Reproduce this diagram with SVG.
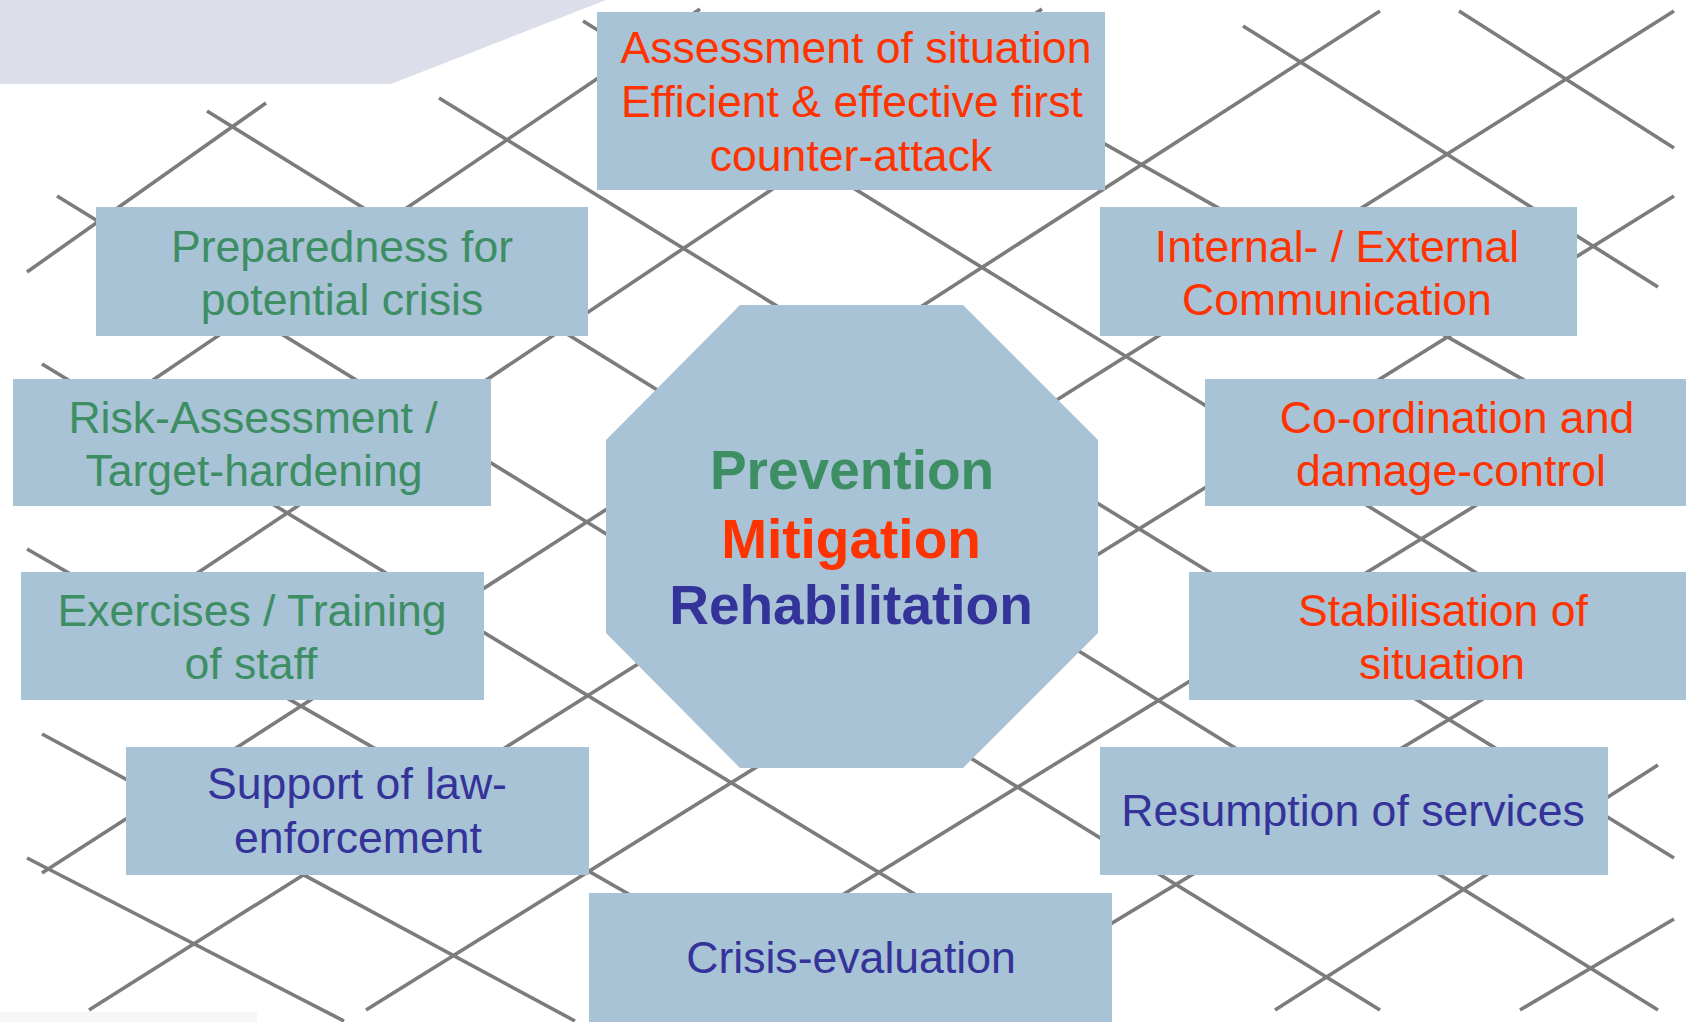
<svg xmlns="http://www.w3.org/2000/svg" width="1686" height="1022" viewBox="0 0 1686 1022">
<style>
.ln{stroke:#7c7c7c;stroke-width:3.6;fill:none;stroke-linecap:butt}
.box{fill:#a8c2d6}
.t{font-family:"Liberation Sans",Arial,sans-serif;font-size:44.6px;text-anchor:middle}
.c{font-family:"Liberation Sans",Arial,sans-serif;font-size:55px;font-weight:bold;text-anchor:middle}
.g{fill:#3e8e64}
.r{fill:#ff3300}
.b{fill:#333399}
</style>
<rect x="0" y="0" width="1686" height="1022" fill="#ffffff"/>
<polygon points="0,0 606,0 391,84 0,84" fill="#dcdfe9"/>
<rect x="0" y="1012" width="257" height="10" fill="#f6f7f9"/>
<g id="connectors">
<line class="ln" x1="583" y1="21" x2="1640" y2="674"/>
<line class="ln" x1="207" y1="111" x2="1658" y2="1010"/>
<line class="ln" x1="439" y1="98" x2="1674" y2="858"/>
<line class="ln" x1="57" y1="196" x2="1380" y2="1010"/>
<line class="ln" x1="42" y1="364" x2="1000" y2="946"/>
<line class="ln" x1="27" y1="549" x2="700" y2="935"/>
<line class="ln" x1="42" y1="734" x2="575" y2="1021"/>
<line class="ln" x1="27" y1="858" x2="344" y2="1021"/>
<line class="ln" x1="1243" y1="26" x2="1658" y2="287"/>
<line class="ln" x1="1459" y1="11" x2="1674" y2="148"/>
<line class="ln" x1="1000" y1="85" x2="1650" y2="451"/>
<line class="ln" x1="27" y1="272" x2="266" y2="103"/>
<line class="ln" x1="60" y1="443" x2="700" y2="9"/>
<line class="ln" x1="100" y1="638" x2="1042" y2="9"/>
<line class="ln" x1="42" y1="873" x2="1380" y2="11"/>
<line class="ln" x1="89" y1="1010" x2="1674" y2="11"/>
<line class="ln" x1="366" y1="1010" x2="1674" y2="196"/>
<line class="ln" x1="660" y1="1007" x2="1600" y2="429"/>
<line class="ln" x1="960" y1="1015" x2="1660" y2="592"/>
<line class="ln" x1="1275" y1="1010" x2="1658" y2="765"/>
<line class="ln" x1="1520" y1="1010" x2="1674" y2="919"/>
</g>
<g id="center">
<polygon class="box" points="740,305 963,305 1098,440 1098,633 963,768 740,768 606,633 606,440"/>
<text class="c g" x="852" y="489">Prevention</text>
<text class="c r" x="851" y="558">Mitigation</text>
<text class="c b" x="851" y="624">Rehabilitation</text>
</g>
<g id="assessment">
<rect class="box" x="597" y="12" width="508" height="178"/>
<text class="t r" x="856" y="63">Assessment of situation</text>
<text class="t r" x="852" y="117">Efficient &amp; effective first</text>
<text class="t r" x="851" y="171">counter-attack</text>
</g>
<g id="preparedness">
<rect class="box" x="96" y="207" width="492" height="129"/>
<text class="t g" x="342" y="262">Preparedness for</text>
<text class="t g" x="342" y="315">potential crisis</text>
</g>
<g id="internal">
<rect class="box" x="1100" y="207" width="477" height="129"/>
<text class="t r" x="1337" y="262">Internal- / External</text>
<text class="t r" x="1337" y="315">Communication</text>
</g>
<g id="risk">
<rect class="box" x="13" y="379" width="478" height="127"/>
<text class="t g" x="253" y="433">Risk-Assessment /</text>
<text class="t g" x="254" y="486">Target-hardening</text>
</g>
<g id="coordination">
<rect class="box" x="1205" y="379" width="481" height="127"/>
<text class="t r" x="1457" y="433">Co-ordination and</text>
<text class="t r" x="1451" y="486">damage-control</text>
</g>
<g id="exercises">
<rect class="box" x="21" y="572" width="463" height="128"/>
<text class="t g" x="252" y="626">Exercises / Training</text>
<text class="t g" x="251" y="679">of staff</text>
</g>
<g id="stabilisation">
<rect class="box" x="1189" y="572" width="497" height="128"/>
<text class="t r" x="1443" y="626">Stabilisation of</text>
<text class="t r" x="1442" y="679">situation</text>
</g>
<g id="support">
<rect class="box" x="126" y="747" width="463" height="128"/>
<text class="t b" x="357" y="799">Support of law-</text>
<text class="t b" x="358" y="853">enforcement</text>
</g>
<g id="resumption">
<rect class="box" x="1100" y="747" width="508" height="128"/>
<text class="t b" x="1353" y="826">Resumption of services</text>
</g>
<g id="crisis">
<rect class="box" x="589" y="893" width="523" height="129"/>
<text class="t b" x="851" y="973">Crisis-evaluation</text>
</g>
</svg>
